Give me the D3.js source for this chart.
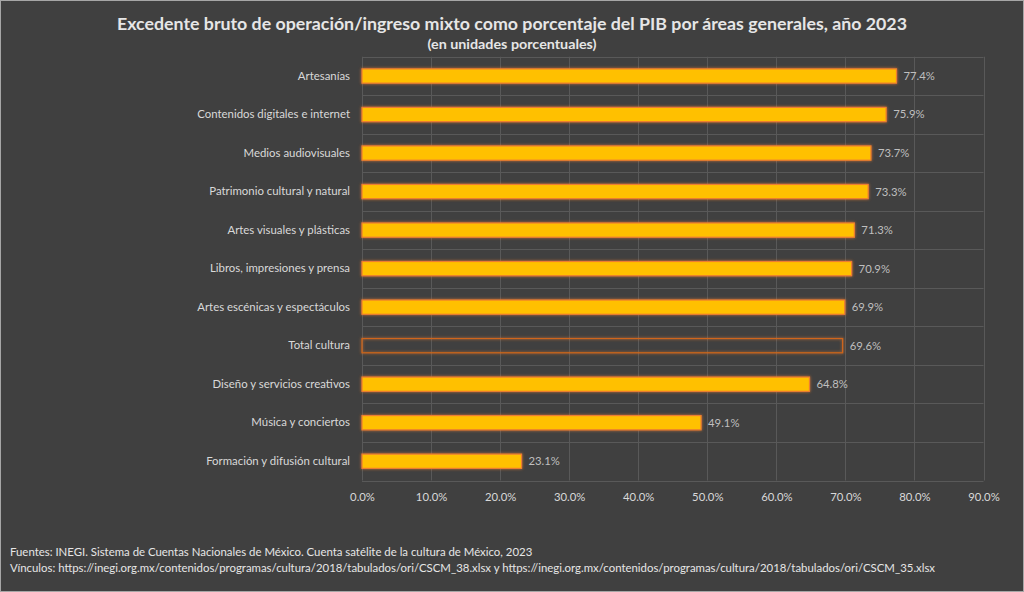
<!DOCTYPE html>
<html><head><meta charset="utf-8">
<script src="https://cdn.jsdelivr.net/npm/d3@7"></script>
<style>
html,body{margin:0;padding:0;background:#404040;}
svg{display:block;}
text{font-family:Lato,"Open Sans",sans-serif;}
</style></head>
<body>
<svg id="chart" width="1024" height="592"></svg>
<script>
const categories = ["Artesanías","Contenidos digitales e internet","Medios audiovisuales","Patrimonio cultural y natural","Artes visuales y plásticas","Libros, impresiones y prensa","Artes escénicas y espectáculos","Total cultura","Diseño y servicios creativos","Música y conciertos","Formación y difusión cultural"];
const values = [77.4,75.9,73.7,73.3,71.3,70.9,69.9,69.6,64.8,49.1,23.1];
const highlight = ["Total cultura"];
const xTicks = [0,10,20,30,40,50,60,70,80,90];
const title = "Excedente bruto de operación/ingreso mixto como porcentaje del PIB por áreas generales, año 2023";
const subtitle = "(en unidades porcentuales)";
const footer = ["Fuentes: INEGI. Sistema de Cuentas Nacionales de México. Cuenta satélite de la cultura de México, 2023",
"Vínculos: https://inegi.org.mx/contenidos/programas/cultura/2018/tabulados/ori/CSCM_38.xlsx y https://inegi.org.mx/contenidos/programas/cultura/2018/tabulados/ori/CSCM_35.xlsx"];

const svg = d3.select("#chart");
const W=1024,H=592;
svg.append("rect").attr("x",0.5).attr("y",0.5).attr("width",W-1).attr("height",H-1)
  .attr("fill","#404040").attr("stroke","#a6a6a6").attr("stroke-width",1);

const defs = svg.append("defs");
const f = defs.append("filter").attr("id","glow").attr("x","-10%").attr("y","-60%").attr("width","120%").attr("height","220%");
f.append("feGaussianBlur").attr("in","SourceAlpha").attr("stdDeviation",1.8).attr("result","b");
f.append("feFlood").attr("flood-color","#ed7d31").attr("flood-opacity",0.8);
f.append("feComposite").attr("in2","b").attr("operator","in").attr("result","g");
const m=f.append("feMerge"); m.append("feMergeNode").attr("in","g"); m.append("feMergeNode").attr("in","SourceGraphic");

const pL=362, pR=983.5, pT=56.75, pB=480.5;
const x = d3.scaleLinear().domain([0,90]).range([pL,pR]);
const y = d3.scaleBand().domain(categories).range([pT,pB]).paddingInner(0.63).paddingOuter(0.315);

// gridlines
const g = svg.append("g");
g.selectAll("line.v").data(xTicks).join("line")
  .attr("x1",d=>Math.round(x(d))+0.5).attr("x2",d=>Math.round(x(d))+0.5)
  .attr("y1",pT).attr("y2",pB).attr("stroke","#595959").attr("stroke-width",1);
const step = (pB-pT)/categories.length;
g.selectAll("line.h").data(d3.range(categories.length+1)).join("line")
  .attr("x1",pL).attr("x2",pR)
  .attr("y1",d=>Math.round(pT+d*step)+0.5).attr("y2",d=>Math.round(pT+d*step)+0.5)
  .attr("stroke","#595959").attr("stroke-width",1);

// bars
svg.append("g").selectAll("rect").data(categories).join("rect")
  .attr("x",x(0)).attr("y",d=>y(d)).attr("height",y.bandwidth())
  .attr("width",(d,i)=>x(values[i])-x(0))
  .attr("fill",d=>highlight.includes(d)?"none":"#ffc000")
  .attr("stroke",d=>highlight.includes(d)?"#d0661a":"#ed7d31")
  .attr("stroke-width",1.2)
  .attr("filter","url(#glow)");

// value labels
svg.append("g").selectAll("text").data(categories).join("text")
  .attr("x",(d,i)=>x(values[i])+7).attr("y",d=>y(d)+y.bandwidth()/2)
  .attr("dy","0.35em").attr("fill","#bfbfbf").attr("font-size",11.3)
  .text((d,i)=>values[i].toFixed(1)+"%");

// y axis labels
const yAxis = d3.axisLeft(y).tickSize(0).tickPadding(12);
const ya = svg.append("g").attr("transform",`translate(${pL},0)`).call(yAxis);
ya.select(".domain").remove();
ya.selectAll("text").attr("fill","#d9d9d9").attr("font-size",11.4).attr("font-family","Lato,'Open Sans',sans-serif");

// x axis
const xAxis = d3.axisBottom(x).tickValues(xTicks).tickSize(0).tickPadding(12).tickFormat(d=>d.toFixed(1)+"%");
const xa = svg.append("g").attr("transform",`translate(0,${pB})`).call(xAxis);
xa.select(".domain").remove();
xa.selectAll("text").attr("fill","#d9d9d9").attr("font-size",11.3).attr("font-family","Lato,'Open Sans',sans-serif");

// titles
svg.append("text").attr("x",512).attr("y",30).attr("text-anchor","middle")
  .attr("fill","#e6e6e6").attr("font-size",17.5).attr("font-weight","bold")
  .attr("textLength",790).attr("lengthAdjust","spacingAndGlyphs").text(title);
svg.append("text").attr("x",512).attr("y",49).attr("text-anchor","middle")
  .attr("fill","#e6e6e6").attr("font-size",14).attr("font-weight","bold")
  .attr("textLength",169).attr("lengthAdjust","spacingAndGlyphs").text(subtitle);

svg.append("g").selectAll("text").data(footer).join("text")
  .attr("x",10).attr("y",(d,i)=>556+i*16).attr("fill","#e6e6e6").attr("font-size",11.4)
  .text(d=>d);
</script>
</body></html>
